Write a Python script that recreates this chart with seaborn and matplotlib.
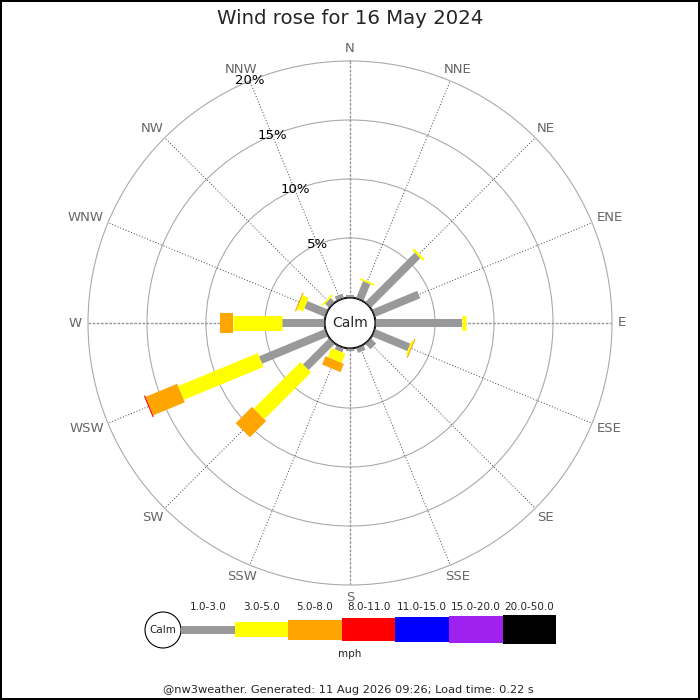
import numpy as np
import pandas as pd
import seaborn as sns
import matplotlib
matplotlib.use('Agg')
import matplotlib.pyplot as plt
from matplotlib.patches import Circle, Rectangle

# --- data (percent of time per direction and speed class) ---
directions = ['N', 'NNE', 'NE', 'ENE', 'E', 'ESE', 'SE', 'SSE',
              'S', 'SSW', 'SW', 'WSW', 'W', 'WNW', 'NW', 'NNW']
speed_bins = ['1.0-3.0', '3.0-5.0', '5.0-8.0', '8.0-11.0',
              '11.0-15.0', '15.0-20.0', '20.0-50.0']
bin_colors = ['#999999', '#ffff00', '#ffa500', '#ff0000',
              '#0000ff', '#a020f0', '#000000']
bin_width_px = [8, 15, 20, 23, 25, 27, 29]

spd_1_3 = [0.2, 1.5, 5.9, 4.1, 7.3, 3.2, 0.6, 0.4,
           0.15, 0.35, 3.1, 6.0, 3.6, 1.85, 0.45, 0.35]
spd_3_5 = [0.0, 0.15, 0.2, 0.0, 0.35, 0.15, 0.0, 0.0,
           0.0, 0.85, 5.6, 7.3, 4.1, 0.55, 0.15, 0.0]
spd_5_8 = [0.0, 0.0, 0.0, 0.0, 0.0, 0.1, 0.0, 0.0,
           0.0, 0.75, 1.95, 2.9, 1.1, 0.1, 0.0, 0.0]
spd_8_11 = [0.0, 0.0, 0.0, 0.0, 0.0, 0.0, 0.0, 0.0,
            0.0, 0.0, 0.0, 0.1, 0.0, 0.0, 0.0, 0.0]

ring_ticks = [5, 10, 15, 20]
ring_labels = ['5%', '10%', '15%', '20%']

df = pd.DataFrame({'direction': directions,
                   speed_bins[0]: spd_1_3, speed_bins[1]: spd_3_5,
                   speed_bins[2]: spd_5_8, speed_bins[3]: spd_8_11})

sns.set_style('white')
plt.rcParams['font.family'] = ['DejaVu Sans']

fig = plt.figure(figsize=(7, 7), dpi=100)
fig.patch.set_facecolor('white')
fig.patch.set_edgecolor('black')
fig.patch.set_linewidth(1.5)

# polar axes: centre (350, 323) px, radius 262 px, calm hole 26 px
ax = fig.add_axes([88 / 700, 115 / 700, 524 / 700, 524 / 700], projection='polar')
ax.set_theta_zero_location('N')
ax.set_theta_direction(-1)
ax.set_ylim(0, 20)
ax.set_rorigin(-26 / 236 * 20)
ax.set_xticks([])
ax.set_yticks(ring_ticks[:-1])
ax.set_yticklabels([])
ax.yaxis.grid(True, color='#aaaaaa', lw=0.8)
ax.xaxis.grid(False)
ax.spines['polar'].set_color('#aaaaaa')
ax.spines['polar'].set_linewidth(0.8)
if 'inner' in ax.spines:
    ax.spines['inner'].set_visible(False)

thetas = np.deg2rad(np.arange(len(directions)) * 22.5)
px_to_pt = 72 / 100

# spokes
for i, th in enumerate(thetas):
    if i % 4 == 0:
        ax.plot([th, th], [0, 20], color='#999999', lw=1.0,
                ls=(0, (2, 1)), zorder=1)
    else:
        ax.plot([th, th], [0, 20], color='#444444', lw=0.7,
                ls=(0, (1, 2)), zorder=1)

# stacked radial bars
for i, row in df.iterrows():
    base = 0.0
    for k, b in enumerate(speed_bins[:4]):
        v = row[b]
        if v > 0:
            ax.plot([thetas[i], thetas[i]], [base, base + v],
                    color=bin_colors[k], lw=bin_width_px[k] * px_to_pt,
                    solid_capstyle='butt', zorder=3 + k)
        base += v

# ring labels along NNW
for r, lab in zip(ring_ticks, ring_labels):
    ax.text(np.deg2rad(337.5), r, lab, ha='center', va='center',
            color='black', fontsize=9.5, zorder=10, clip_on=False)

# overlay in pixel coords
ov = fig.add_axes([0, 0, 1, 1])
ov.set_xlim(0, 700)
ov.set_ylim(700, 0)
ov.axis('off')
ov.patch.set_visible(False)

# direction labels: pushed outward from an anchor just outside the rim
renderer = fig.canvas.get_renderer()
for th, name in zip(thetas, directions):
    xd, yd = ax.transData.transform((th, 20.51))
    anchor_x, anchor_y = xd, 700 - yd
    t = ov.text(anchor_x, anchor_y, name, ha='center', va='center',
                color='#666666', fontsize=9.5)
    bb = t.get_window_extent(renderer)
    t.set_position((anchor_x + np.sin(th) * bb.width / 2,
                    anchor_y - np.cos(th) * bb.height / 2))

ov.add_patch(Circle((350, 323), 25, facecolor='white', edgecolor='black',
                    lw=0.8, zorder=5))
ov.text(350, 323, 'Calm', ha='center', va='center', fontsize=10, zorder=6)

ov.text(350, 18, 'Wind rose for 16 May 2024', ha='center', va='center',
        fontsize=14.2)

# legend
ov.add_patch(Circle((163, 630), 18, facecolor='white', edgecolor='black', lw=0.8))
ov.text(163, 630, 'Calm', ha='center', va='center', fontsize=7.5)
seg_x0, seg_w = 181, 53.6
for k, (lab, col, h) in enumerate(zip(speed_bins, bin_colors, bin_width_px)):
    x = seg_x0 + k * seg_w
    ov.add_patch(Rectangle((x, 629.5 - h / 2), seg_w, h, facecolor=col,
                           edgecolor='none'))
    ov.text(x + seg_w / 2, 607, lab, ha='center', va='center', fontsize=7.5)
ov.text(350, 654, 'mph', ha='center', va='center', fontsize=7.5)

ov.text(348, 690, '@nw3weather. Generated: 11 Aug 2026 09:26; Load time: 0.22 s',
        ha='center', va='center', fontsize=8.2)

fig.savefig('out.png', dpi=100, facecolor='white', edgecolor='black')
